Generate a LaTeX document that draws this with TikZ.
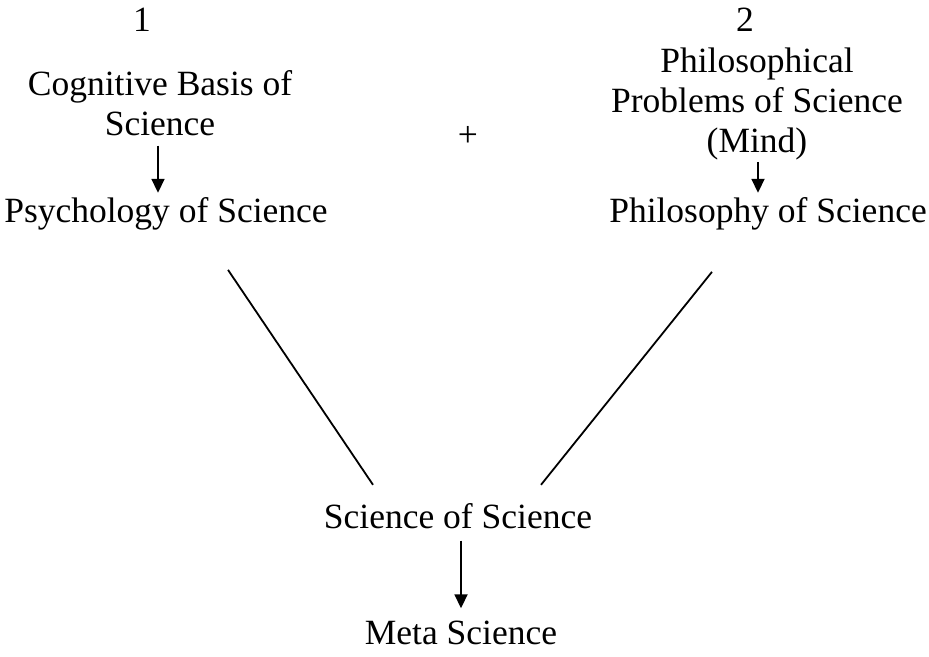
\documentclass[tikz,border=0pt]{standalone}
\usepackage{fontspec}
\setmainfont{Liberation Serif}
\usetikzlibrary{arrows.meta,calc}
\begin{document}
\begin{tikzpicture}[x=1pt,y=-1pt,
  lbl/.style={inner sep=0pt, align=center, anchor=base, font=\fontsize{35.5}{40}\selectfont},
  arr/.style={line width=1.8pt, -{Triangle[length=14pt,width=13pt]}},
  conn/.style={line width=1.8pt}]
\useasboundingbox (0,0) rectangle (929,656);
\node[lbl] (one) at (142,31) {1};
\node[lbl] (two) at (745,31) {2};
\node[lbl] (cog) at (160,135) {Cognitive Basis of\\Science};
\node[lbl] (plus) at (468,146) {+};
\node[lbl] (phprob) at (757,152) {Philosophical\\Problems of Science\\(Mind)};
\node[lbl] (psy) at (166,222) {Psychology of Science};
\node[lbl] (phs) at (768,222) {Philosophy of Science};
\node[lbl] (sos) at (458,528) {Science of Science};
\node[lbl] (meta) at (461,644) {Meta Science};
\draw[arr] ($(cog.south)+(-2,10)$) -- ($(cog.south |- psy.north)+(-2,-4)$);
\draw[arr] ($(phprob.south)+(1,2)$) -- ($(phprob.south |- phs.north)+(1,-4)$);
\draw[arr] ($(sos.south)+(3,12)$) -- ($(sos.south |- meta.north)+(3,-12)$);
\draw[conn] ($(psy.south)+(62,40)$) -- ($(sos.north)+(-85,-18)$);
\draw[conn] ($(phs.south)+(-56,42)$) -- ($(sos.north)+(83,-18)$);
\end{tikzpicture}
\end{document}
